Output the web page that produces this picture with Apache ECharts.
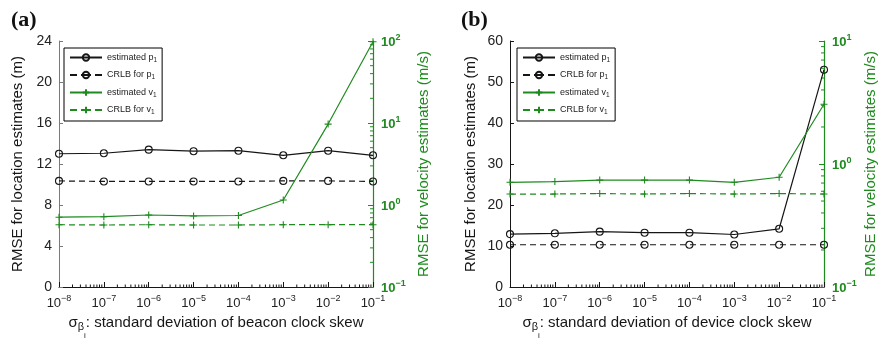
<!DOCTYPE html>
<html>
<head>
<meta charset="utf-8">
<script src="https://cdn.jsdelivr.net/npm/echarts@6/dist/echarts.min.js"></script>
<style>
  html, body { margin: 0; padding: 0; background: #ffffff; }
  #chart { width: 879px; height: 346px; }
</style>
</head>
<body>
<div id="chart"></div>
<script>
// Clock-skew standard deviation levels (x axis, log scale)
const skewLevels = [1e-8, 1e-7, 1e-6, 1e-5, 1e-4, 1e-3, 1e-2, 1e-1];

// Panel (a): beacon clock skew
const beaconEstP  = [13.0, 13.05, 13.4, 13.25, 13.3, 12.85, 13.3, 12.85];
const beaconCrlbP = [10.35, 10.3, 10.3, 10.3, 10.3, 10.35, 10.35, 10.3];
const beaconEstV  = [0.71, 0.72, 0.755, 0.735, 0.745, 1.15, 9.7, 98];
const beaconCrlbV = [0.575, 0.57, 0.575, 0.57, 0.57, 0.575, 0.575, 0.575];

// Panel (b): device clock skew
const deviceEstP  = [12.9, 13.1, 13.5, 13.25, 13.25, 12.8, 14.2, 53];
const deviceCrlbP = [10.3, 10.3, 10.3, 10.3, 10.3, 10.3, 10.3, 10.3];
const deviceEstV  = [0.71, 0.72, 0.74, 0.74, 0.74, 0.71, 0.78, 3.06];
const deviceCrlbV = [0.57, 0.57, 0.575, 0.57, 0.575, 0.57, 0.575, 0.57];

// Legend entries
const seriesNames = ['estimated p1', 'CRLB for p1', 'estimated v1', 'CRLB for v1'];
const panelTitles = ['(a)', '(b)'];
const xNames = ['beacon', 'device'];

const GREEN = '#1f8b1f';
const INK = '#161616';
const FONT = "'Liberation Sans', Arial, Helvetica, sans-serif";
const PLUS = 'path://M4,0L4,8M0,4L8,4';

const chart = echarts.init(document.getElementById('chart'), null, { renderer: 'canvas' });

function pairs(xs, ys) { return xs.map((x, i) => [x, ys[i]]); }

function powerLabel(v) {
  const e = Math.round(Math.log10(v));
  return '{b|10}{s|' + (e < 0 ? '\u2212' + (-e) : e) + '}';
}

function powerRich(color, weight) {
  return {
    b: { fontSize: 13, color, fontWeight: weight, fontFamily: FONT, verticalAlign: 'bottom', padding: [3, 0, 0, 0] },
    s: { fontSize: 9, color, fontWeight: weight, fontFamily: FONT, verticalAlign: 'top' }
  };
}

function xNameRich() {
  return {
    g: { fontSize: 15, color: INK, fontFamily: FONT, verticalAlign: 'top' },
    b: { fontSize: 11, color: INK, fontFamily: FONT, verticalAlign: 'top', padding: [7, 0, 0, 0] },
    i: { fontSize: 8, color: INK, fontFamily: FONT, verticalAlign: 'top', padding: [17, 0, 0, 0] }
  };
}

// Minor log ticks at 2..9 x 10^e, drawn through the axis scales
function minorTicks(xi, yi, decades, fixed, vertical, color, len) {
  const data = [];
  decades.forEach(e => {
    for (let m = 2; m <= 9; m++) {
      const v = m * Math.pow(10, e);
      data.push(vertical ? [fixed, v] : [v, fixed]);
    }
  });
  return {
    type: 'custom', xAxisIndex: xi, yAxisIndex: yi, silent: true, animation: false, clip: false, z: 5,
    data,
    renderItem(params, api) {
      const p = api.coord([api.value(0), api.value(1)]);
      const shape = vertical
        ? { x1: p[0], y1: p[1], x2: p[0] - len, y2: p[1] }
        : { x1: p[0], y1: p[1], x2: p[0], y2: p[1] - len };
      return { type: 'line', shape, style: { stroke: color, lineWidth: 1 } };
    }
  };
}

function lineSeries(name, xi, yi, ys, color, dashed, marker) {
  return {
    name, type: 'line', xAxisIndex: xi, yAxisIndex: yi,
    data: pairs(skewLevels, ys),
    symbol: marker === 'o' ? 'circle' : PLUS,
    symbolSize: 7,
    showSymbol: true,
    animation: false,
    lineStyle: { color, width: 1.2, type: dashed ? [6, 4] : 'solid' },
    itemStyle: { color: 'rgba(0,0,0,0)', borderColor: color, borderWidth: 1.1 },
    z: 10
  };
}

function xAxisFor(gridIndex, label) {
  return {
    type: 'log', logBase: 10, gridIndex, min: 1e-8, max: 1e-1, interval: 1,
    axisLine: { show: true, onZero: false, lineStyle: { color: INK, width: 1 } },
    axisTick: { show: true, inside: true, length: 5, lineStyle: { color: INK } },
    splitLine: { show: false },
    axisLabel: { formatter: powerLabel, rich: powerRich('#222', 'normal'), margin: 7 },
    name: '{g|\u03c3}{b|\u03b2}{i|i}{g|: standard deviation of ' + label + ' clock skew}',
    nameLocation: 'middle', nameGap: 26,
    nameTextStyle: { rich: xNameRich() }
  };
}

function leftAxisFor(gridIndex, max, interval, lineColor, gap) {
  return {
    type: 'value', gridIndex, position: 'left', min: 0, max, interval,
    axisLine: { show: true, lineStyle: { color: lineColor, width: 1 } },
    axisTick: { show: true, inside: true, length: 4, lineStyle: { color: lineColor } },
    splitLine: { show: false },
    axisLabel: { color: '#222', fontSize: 14, fontFamily: FONT, margin: 7 },
    name: 'RMSE for location estimates (m)', nameLocation: 'middle', nameGap: gap,
    nameTextStyle: { color: INK, fontSize: 15, fontFamily: FONT }
  };
}

function rightAxisFor(gridIndex, min, max, gap) {
  return {
    type: 'log', logBase: 10, gridIndex, position: 'right', min, max, interval: 1,
    axisLine: { show: true, lineStyle: { color: GREEN, width: 1.2 } },
    axisTick: { show: true, inside: true, length: 5, lineStyle: { color: GREEN } },
    splitLine: { show: false },
    axisLabel: { formatter: powerLabel, rich: powerRich(GREEN, 'bold'), margin: 8 },
    name: 'RMSE for velocity estimates (m/s)', nameLocation: 'middle', nameGap: gap,
    nameTextStyle: { color: GREEN, fontSize: 15, fontFamily: FONT }
  };
}

// Dashed legend keys show a dash, the marker with the line through it, and a dash
const LEGEND_DASH = [7, 4, 10, 4];

function legendFor(left) {
  return {
    left, top: 48, orient: 'vertical',
    data: seriesNames.map((n, i) => (i % 2 === 1 ? { name: n, lineStyle: { type: LEGEND_DASH } } : { name: n })),
    itemWidth: 32, itemHeight: 8, itemGap: 7,
    padding: [5, 5, 5, 5],
    borderColor: '#000', borderWidth: 1, backgroundColor: '#fff',
    selectedMode: false,
    formatter: n => n.replace(/1$/, '{sub|1}'),
    textStyle: {
      fontSize: 9, color: '#222', fontFamily: FONT,
      rich: { sub: { fontSize: 6.5, color: '#222', fontFamily: FONT, verticalAlign: 'top', padding: [5, 0, 0, 0] } }
    }
  };
}

const panels = [
  { p: [beaconEstP, beaconCrlbP], v: [beaconEstV, beaconCrlbV], leftMax: 24, leftInt: 4, rMin: 0.1, rMax: 100, rDec: [-1, 0, 1] },
  { p: [deviceEstP, deviceCrlbP], v: [deviceEstV, deviceCrlbV], leftMax: 60, leftInt: 10, rMin: 0.1, rMax: 10, rDec: [-1, 0] }
];

const series = [];
panels.forEach((pn, k) => {
  const yl = k * 2, yr = k * 2 + 1;
  series.push(lineSeries(seriesNames[0], k, yl, pn.p[0], INK, false, 'o'));
  series.push(lineSeries(seriesNames[1], k, yl, pn.p[1], INK, true, 'o'));
  series.push(lineSeries(seriesNames[2], k, yr, pn.v[0], GREEN, false, '+'));
  series.push(lineSeries(seriesNames[3], k, yr, pn.v[1], GREEN, true, '+'));
  series.push(minorTicks(k, yl, [-8, -7, -6, -5, -4, -3, -2], 0, false, INK, 2.5));
  series.push(minorTicks(k, yr, pn.rDec, 0.1, true, GREEN, 3));
});

chart.setOption({
  backgroundColor: '#ffffff',
  animation: false,
  textStyle: { fontFamily: FONT },
  title: panelTitles.map((t, k) => ({
    text: t, left: k === 0 ? 6 : 456, top: 4,
    textStyle: { fontFamily: "'Liberation Serif', 'Times New Roman', serif", fontWeight: 'bold', fontSize: 22, color: '#111' }
  })),
  grid: [
    { left: 59, top: 41, width: 314, height: 246 },
    { left: 510, top: 41, width: 315, height: 246 }
  ],
  legend: [legendFor(64), legendFor(517)],
  xAxis: [xAxisFor(0, xNames[0]), xAxisFor(1, xNames[1])],
  yAxis: [
    leftAxisFor(0, panels[0].leftMax, panels[0].leftInt, '#7a7a7a', 34),
    rightAxisFor(0, panels[0].rMin, panels[0].rMax, 43),
    leftAxisFor(1, panels[1].leftMax, panels[1].leftInt, INK, 32),
    rightAxisFor(1, panels[1].rMin, panels[1].rMax, 39)
  ],
  series
});
</script>
</body>
</html>
